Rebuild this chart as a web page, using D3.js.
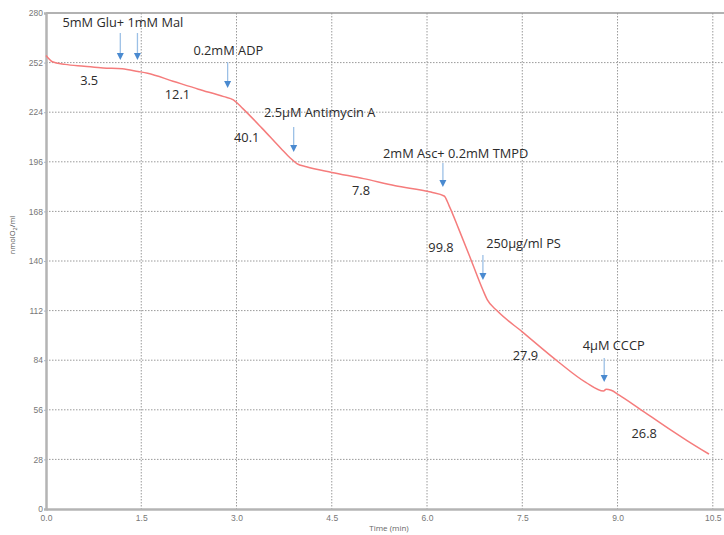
<!DOCTYPE html>
<html>
<head>
<meta charset="utf-8">
<script src="https://cdn.jsdelivr.net/npm/d3@7"></script>
<style>
  body { margin: 0; background: #fff; }
  svg { display: block; font-family: "Open Sans", sans-serif; }
</style>
</head>
<body>
<svg id="chart" width="724" height="535"></svg>
<script>
// O2 trace, time in min and concentration in nmolO2/ml
const times = [0, 0.1, 0.3, 0.6, 0.9, 1.2, 1.45, 1.6, 2.0, 2.4, 2.8, 2.95, 3.1, 3.4, 3.7, 3.85, 3.95, 4.1,
  4.5, 5.0, 5.5, 6.06, 6.27, 6.35, 6.5, 6.7, 6.88, 6.95, 7.1, 7.5, 8.07, 8.5, 8.78, 8.82, 8.9, 9.02, 9.33,
  9.8, 10.1, 10.44];
const o2 = [256, 252.5, 251, 250, 249, 248.5, 247, 246, 241.5, 237, 232.8, 231, 226, 215, 203.5, 198, 195, 193.2,
  190, 186.5, 182.5, 178.9, 176.7, 171, 158, 140, 123.6, 118, 112, 100, 83, 71.5, 66.6, 67.6, 67, 64.4, 57,
  45.5, 38.5, 31];

const xTicks = [0, 1.5, 3, 4.5, 6, 7.5, 9, 10.5];
const yTicks = [0, 28, 56, 84, 112, 140, 168, 196, 224, 252, 280];

// additions: arrow at time, from top value down to bottom value
const arrowTimes = [1.17, 1.44, 2.86, 3.90, 6.25, 6.88, 8.79];
const arrowTops = [268.7, 268.7, 252.3, 215.6, 195.3, 143.4, 85.2];
const arrowBottoms = [253.5, 253.5, 237.7, 201.5, 181.8, 129.3, 71.7];

// text notes: label, centre time, baseline value
const noteTexts = ["5mM Glu+ 1mM Mal", "3.5", "12.1", "0.2mM ADP", "40.1", "2.5µM Antimycin A", "7.8",
  "2mM Asc+ 0.2mM TMPD", "99.8", "250µg/ml PS", "27.9", "4µM CCCP", "26.8"];
const noteTimes = [1.21, 0.68, 2.07, 2.87, 3.16, 4.31, 4.96, 6.45, 6.22, 7.52, 7.55, 8.94, 9.42];
const noteValues = [272.1, 239.4, 231.4, 256.3, 207.2, 221.3, 177.3, 198.1, 145.1, 147.3, 84.1, 89.8, 40.1];

const svg = d3.select('#chart');

const x = d3.scaleLinear().domain([0, 10.7]).range([46, 725.5]);
const y = d3.scaleLinear().domain([0, 280]).range([509, 13]);

// grid
svg.append('g')
  .selectAll('line')
  .data(xTicks.filter(d => d > 0))
  .join('line')
  .attr('x1', d => x(d)).attr('x2', d => x(d))
  .attr('y1', y(280)).attr('y2', y(0))
  .attr('stroke', '#9a9a9a')
  .attr('stroke-dasharray', '1.5,1.5');

svg.append('g')
  .selectAll('line')
  .data(yTicks.filter(d => d > 0 && d < 280))
  .join('line')
  .attr('x1', x(0)).attr('x2', 724)
  .attr('y1', d => y(d)).attr('y2', d => y(d))
  .attr('stroke', '#9a9a9a')
  .attr('stroke-dasharray', '1.5,1.5');

// top frame
svg.append('line')
  .attr('x1', x(0)).attr('x2', 724)
  .attr('y1', y(280)).attr('y2', y(280))
  .attr('stroke', '#999')
  .attr('stroke-width', 1.5);

// axes
const xAxis = svg.append('g')
  .attr('transform', `translate(0,${y(0)})`)
  .call(d3.axisBottom(x).tickValues(xTicks).tickFormat(d3.format('.1f')).tickSize(0).tickPadding(6));
xAxis.select('.domain').attr('stroke', '#b4b4b4').attr('stroke-width', 2.5);

const yAxis = svg.append('g')
  .attr('transform', `translate(${x(0)},0)`)
  .call(d3.axisLeft(y).tickValues(yTicks).tickSize(2).tickPadding(1));
yAxis.select('.domain').attr('stroke', '#b4b4b4').attr('stroke-width', 2.5);

svg.selectAll('.tick text')
  .attr('fill', '#777')
  .style('font-size', '8.5px');
svg.selectAll('.tick line').attr('stroke', '#aab8d0');
yAxis.select('.domain').raise();
xAxis.select('.domain').raise();

// axis titles
svg.append('text')
  .attr('x', 389).attr('y', 531)
  .attr('text-anchor', 'middle')
  .attr('fill', '#666')
  .style('font-size', '8px')
  .text('Time (min)');

const yt = svg.append('text')
  .attr('transform', 'translate(15,235) rotate(-90)')
  .attr('text-anchor', 'middle')
  .attr('fill', '#555')
  .style('font-size', '7.5px');
yt.append('tspan').text('nmolO');
yt.append('tspan').attr('dy', 2).style('font-size', '5.5px').text('2');
yt.append('tspan').attr('dy', -2).text('/ml');

// trace
const points = times.map((t, i) => [t, o2[i]]);
svg.append('path')
  .datum(points)
  .attr('fill', 'none')
  .attr('stroke', '#f57c7c')
  .attr('stroke-width', 1.5)
  .attr('stroke-linejoin', 'round')
  .attr('d', d3.line().x(d => x(d[0])).y(d => y(d[1])).curve(d3.curveMonotoneX));

// arrows
const arrows = arrowTimes.map((t, i) => ({ t, top: arrowTops[i], bottom: arrowBottoms[i] }));
const ag = svg.append('g');
ag.selectAll('line')
  .data(arrows)
  .join('line')
  .attr('x1', d => x(d.t)).attr('x2', d => x(d.t))
  .attr('y1', d => y(d.top)).attr('y2', d => y(d.bottom) - 6)
  .attr('stroke', '#9cc0e6')
  .attr('stroke-width', 1.3);
ag.selectAll('path')
  .data(arrows)
  .join('path')
  .attr('fill', '#4a8ad0')
  .attr('d', d => {
    const cx = x(d.t), by = y(d.bottom);
    return `M${cx - 3.5},${by - 7}L${cx + 3.5},${by - 7}L${cx},${by}Z`;
  });

// notes
svg.append('g')
  .selectAll('text')
  .data(noteTexts.map((s, i) => ({ s, t: noteTimes[i], v: noteValues[i] })))
  .join('text')
  .attr('x', d => x(d.t))
  .attr('y', d => y(d.v))
  .attr('text-anchor', 'middle')
  .attr('fill', '#2b2b2b')
  .style('font-size', '12.8px')
  .text(d => d.s);
</script>
</body>
</html>
